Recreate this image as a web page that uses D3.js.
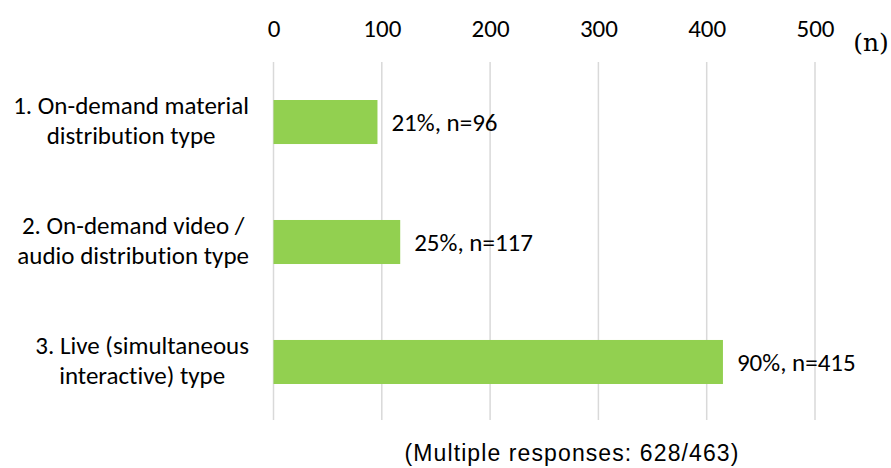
<!DOCTYPE html>
<html><head><meta charset="utf-8">
<script src="https://cdn.jsdelivr.net/npm/d3@7"></script>
<style>body{margin:0;background:#fff} text{font-variant-ligatures:none;font-feature-settings:"liga" 0}</style>
</head><body>
<svg id="c" width="891" height="468"></svg>
<script>
const categories = [
  ["1. On-demand material", "distribution type"],
  ["2. On-demand video /", "audio distribution type"],
  ["3. Live (simultaneous", "interactive) type"]
];
const values = [96, 117, 415];
const percents = ["21%", "25%", "90%"];
const tickValues = [0, 100, 200, 300, 400, 500];
const unitLabel = "(n)";
const footnote = "(Multiple responses: 628/463)";

const svg = d3.select("#c");
const font = "Carlito, Lato, 'Open Sans', sans-serif";
const fs = 25;
const x = d3.scaleLinear().domain([0, 500]).range([273.5, 815]);
const y = d3.scaleBand().domain(d3.range(categories.length)).range([62, 422]).paddingInner(0.633).paddingOuter(0.3167);

// gridlines
svg.append("g").selectAll("line").data(tickValues).join("line")
  .attr("x1", d => x(d)).attr("x2", d => x(d))
  .attr("y1", 62).attr("y2", 420)
  .attr("stroke", "#d9d9d9").attr("stroke-width", 1.5);

// top axis labels
const ax = svg.append("g").attr("transform", "translate(0,28)")
  .call(d3.axisTop(x).tickValues(tickValues).tickSize(0).tickPadding(0));
ax.select(".domain").remove();
ax.selectAll("text").attr("font-family", font).attr("font-size", fs).attr("fill", "#000")
  .attr("dy", "0.35em");

svg.append("text").attr("x", 871).attr("y", 42).attr("dy", "0.35em").attr("text-anchor", "middle")
  .attr("font-family", "'DejaVu Serif', 'Liberation Serif', serif").attr("font-size", 25)
  .text(unitLabel);

// bars
svg.append("g").selectAll("rect").data(values).join("rect")
  .attr("x", x(0)).attr("y", (d, i) => y(i))
  .attr("width", d => x(d) - x(0)).attr("height", y.bandwidth())
  .attr("fill", "#92d050");

// data labels
svg.append("g").selectAll("text").data(values).join("text")
  .attr("x", d => x(d) + 14).attr("y", (d, i) => y(i) + y.bandwidth() / 2)
  .attr("dy", "0.35em").attr("font-family", font).attr("font-size", fs)
  .text((d, i) => `${percents[i]}, n=${d}`);

// category labels
categories.forEach((lines, i) => {
  const g = svg.append("g");
  const cy = y(i) + y.bandwidth() / 2 - 2;
  const ts = lines.map((t, j) => g.append("text")
    .attr("y", cy + (j - 0.5) * 30).attr("dy", "0.35em")
    .attr("text-anchor", "middle").attr("font-family", font).attr("font-size", fs).text(t));
  const maxW = d3.max(ts, t => t.node().getComputedTextLength());
  ts.forEach(t => t.attr("x", 249 - maxW / 2));
});

svg.append("text").attr("x", 572).attr("y", 461).attr("text-anchor", "middle")
  .attr("font-family", "'Liberation Sans', Arial, sans-serif").attr("font-size", 23)
  .attr("letter-spacing", 1.1)
  .text(footnote);
</script>
</body></html>
